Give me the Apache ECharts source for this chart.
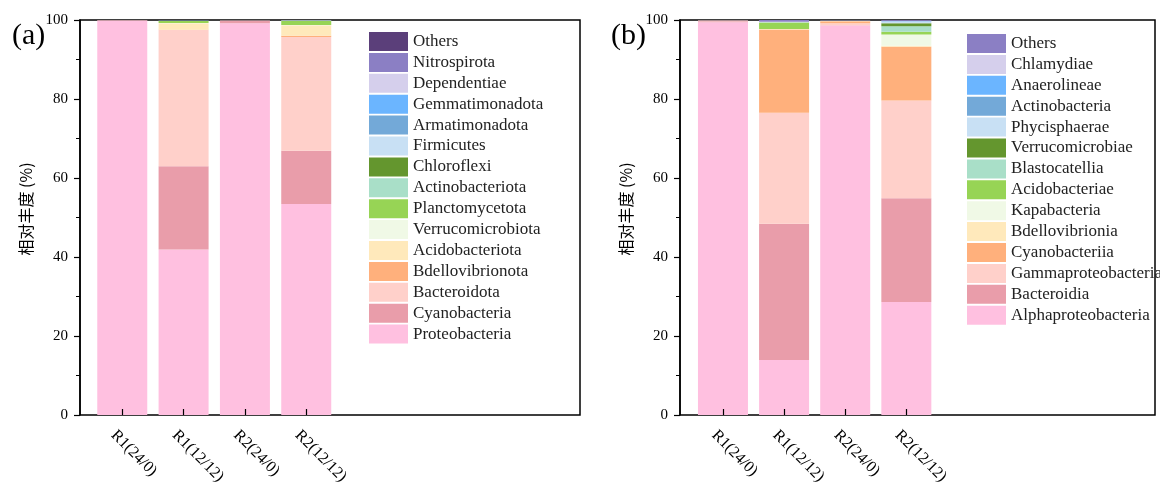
<!DOCTYPE html>
<html><head><meta charset="utf-8">
<script src="https://cdn.jsdelivr.net/npm/echarts@6/dist/echarts.min.js"></script>
<style>html,body{margin:0;padding:0;background:#fff}#c{width:1160px;height:484px}</style>
</head><body><div id="c"></div>
<script>
const categories = ['R1(24/0)', 'R1(12/12)', 'R2(24/0)', 'R2(12/12)'];
const yTicks = [0, 20, 40, 60, 80, 100];

// Panel (a) phylum level, bottom to top
const aNames = ['Proteobacteria','Cyanobacteria','Bacteroidota','Bdellovibrionota','Acidobacteriota','Verrucomicrobiota','Planctomycetota','Actinobacteriota','Chloroflexi','Firmicutes','Armatimonadota','Gemmatimonadota','Dependentiae','Nitrospirota','Others'];
const aColors = ['#ffc0e0','#e99daa','#ffd0ca','#ffb07c','#ffe9bb','#f0f9e6','#97d455','#a9dfc8','#64962e','#c8e0f4','#73a9d8','#6bb5ff','#d5cfec','#8b7fc4','#5b3f7a'];
const aProteobacteria   = [99.9, 41.9, 99.2, 53.4];
const aCyanobacteria    = [0.05, 21.1, 0.6, 13.5];
const aBacteroidota     = [0.02, 34.5, 0.05, 28.8];
const aBdellovibrionota = [0, 0.05, 0.02, 0.3];
const aAcidobacteriota  = [0.01, 1.6, 0.05, 2.65];
const aVerrucomicrobiota= [0, 0.1, 0, 0.1];
const aPlanctomycetota  = [0, 0.5, 0.02, 1.0];
const aActinobacteriota = [0, 0.05, 0, 0.1];
const aChloroflexi      = [0, 0.05, 0, 0.05];
const aFirmicutes       = [0, 0.02, 0, 0.02];
const aArmatimonadota   = [0, 0.02, 0, 0.02];
const aGemmatimonadota  = [0, 0.02, 0, 0.02];
const aDependentiae     = [0, 0.02, 0, 0.02];
const aNitrospirota     = [0, 0.02, 0, 0.02];
const aOthers           = [0.02, 0.03, 0.04, 0.05];
const aValues = [aProteobacteria,aCyanobacteria,aBacteroidota,aBdellovibrionota,aAcidobacteriota,aVerrucomicrobiota,aPlanctomycetota,aActinobacteriota,aChloroflexi,aFirmicutes,aArmatimonadota,aGemmatimonadota,aDependentiae,aNitrospirota,aOthers];

// Panel (b) class level, bottom to top
const bNames = ['Alphaproteobacteria','Bacteroidia','Gammaproteobacteria','Cyanobacteriia','Bdellovibrionia','Kapabacteria','Acidobacteriae','Blastocatellia','Verrucomicrobiae','Phycisphaerae','Actinobacteria','Anaerolineae','Chlamydiae','Others '];
const bColors = ['#ffc0e0','#e99daa','#ffd0ca','#ffb07c','#ffe9bb','#f0f9e6','#97d455','#a9dfc8','#64962e','#c8e0f4','#73a9d8','#6bb5ff','#d5cfec','#8b7fc4'];
const bAlphaproteobacteria = [99.4, 13.9, 98.6, 28.6];
const bBacteroidia         = [0.3, 34.5, 0.1, 26.3];
const bGammaproteobacteria = [0.2, 28.1, 0.5, 24.7];
const bCyanobacteriia      = [0.02, 21.1, 0.5, 13.6];
const bBdellovibrionia     = [0, 0.1, 0.05, 0.3];
const bKapabacteria        = [0, 0.05, 0.02, 2.8];
const bAcidobacteriae      = [0, 1.6, 0.05, 0.75];
const bBlastocatellia      = [0, 0.05, 0, 1.35];
const bVerrucomicrobiae    = [0, 0.05, 0, 0.75];
const bPhycisphaerae       = [0, 0.02, 0, 0.5];
const bActinobacteria      = [0, 0.02, 0, 0.05];
const bAnaerolineae        = [0, 0.02, 0, 0.05];
const bChlamydiae          = [0, 0.02, 0, 0.05];
const bOthers              = [0.05, 0.5, 0.1, 0.4];
const bValues = [bAlphaproteobacteria,bBacteroidia,bGammaproteobacteria,bCyanobacteriia,bBdellovibrionia,bKapabacteria,bAcidobacteriae,bBlastocatellia,bVerrucomicrobiae,bPhycisphaerae,bActinobacteria,bAnaerolineae,bChlamydiae,bOthers];

const SERIF = '"Liberation Serif","Times New Roman",serif';
const CJK = '"Noto Sans CJK SC","Noto Sans",sans-serif';

function frameY(gi){
  return {
    type:'value', gridIndex:gi, min:0, max:100, interval:20,
    axisLine:{show:true, lineStyle:{color:'#000', width:1.5}},
    axisTick:{show:true, inside:false, length:6, lineStyle:{color:'#000', width:1.2}},
    minorTick:{show:true, splitNumber:2, length:4, lineStyle:{color:'#000', width:1}},
    axisLabel:{color:'#000', fontFamily:SERIF, fontSize:15, margin:12},
    splitLine:{show:false}
  };
}
function barX(gi){
  return {
    type:'category', gridIndex:gi, data:categories, z:10,
    axisLine:{show:false},
    axisTick:{show:true, inside:true, alignWithLabel:true, length:6, lineStyle:{color:'#000', width:1.2}},
    axisLabel:{color:'#000', fontFamily:SERIF, fontSize:16, rotate:-45, margin:9, verticalAlign:'top', lineHeight:25}
  };
}
function barY(gi){ return {type:'value', gridIndex:gi, min:0, max:100, show:false}; }
function frameX(gi){ return {type:'value', gridIndex:gi, min:0, max:1, show:false}; }

const series = [];
aNames.forEach((n,i)=>series.push({name:n, type:'bar', stack:'a', xAxisIndex:1, yAxisIndex:1, barWidth:50, data:aValues[i], itemStyle:{color:aColors[i]}}));
bNames.forEach((n,i)=>series.push({name:n, type:'bar', stack:'b', xAxisIndex:3, yAxisIndex:3, barWidth:50, data:bValues[i], itemStyle:{color:bColors[i]}}));

const legendCommon = {
  orient:'vertical', icon:'rect', itemWidth:39, itemHeight:19, itemGap:1.9, padding:0,
  textStyle:{color:'#222', fontFamily:SERIF, fontSize:17, lineHeight:19}, selectedMode:false
};

const option = {
  animation:false,
  backgroundColor:'#fff',
  grid:[
    {left:80, top:20, width:500, height:395, show:true, borderColor:'#000', borderWidth:1.5, outerBoundsMode:'none', containLabel:false},
    {left:91.6, top:20, width:245.3, height:395, outerBoundsMode:'none', containLabel:false},
    {left:680, top:20, width:475, height:395, show:true, borderColor:'#000', borderWidth:1.5, outerBoundsMode:'none', containLabel:false},
    {left:692.4, top:20, width:244.5, height:395, outerBoundsMode:'none', containLabel:false}
  ],
  xAxis:[frameX(0), barX(1), frameX(2), barX(3)],
  yAxis:[frameY(0), barY(1), frameY(2), barY(3)],
  legend:[
    Object.assign({left:369, top:32, data:aNames.slice().reverse()}, legendCommon),
    Object.assign({left:967, top:34, data:bNames.slice().reverse()}, legendCommon)
  ],
  graphic:[
    {type:'text', left:12, top:21, style:{text:'(a)', font:'30px '+SERIF, fill:'#000'}},
    {type:'text', left:611, top:21, style:{text:'(b)', font:'30px '+SERIF, fill:'#000'}},
    {type:'text', x:26, y:209, rotation:Math.PI/2, style:{text:'相对丰度 (%)', font:'16px '+CJK, fill:'#000', align:'center', verticalAlign:'middle'}},
    {type:'text', x:626, y:209, rotation:Math.PI/2, style:{text:'相对丰度 (%)', font:'16px '+CJK, fill:'#000', align:'center', verticalAlign:'middle'}}
  ],
  series:series
};
const chart = echarts.init(document.getElementById('c'), null, {renderer:'canvas'});
chart.setOption(option);
</script></body></html>
